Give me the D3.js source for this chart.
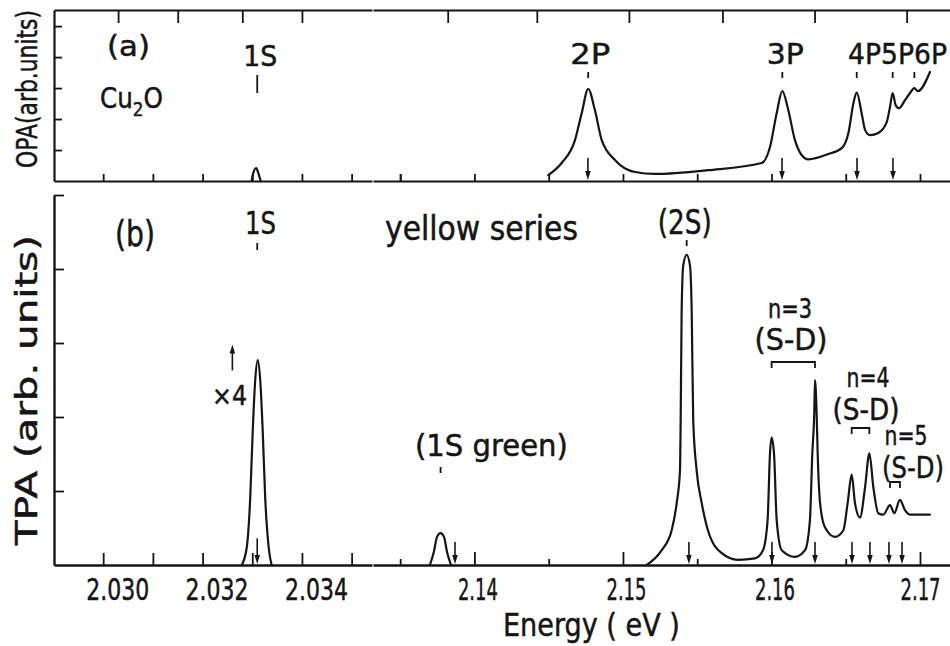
<!DOCTYPE html>
<html>
<head>
<meta charset="utf-8">
<script src="https://cdn.jsdelivr.net/npm/d3@7"></script>
<style>
  body { margin: 0; background: #fff; }
  svg text { font-family: "DejaVu Sans", "Liberation Sans", sans-serif; fill: #151515; stroke: #151515; stroke-width: 0.5px; }
</style>
</head>
<body>
<svg id="chart" width="950" height="646"></svg>
<script>
// ---- Cu2O yellow exciton series: one-photon (OPA) and two-photon (TPA) absorption ----

// OPA spectrum, P-exciton region (eV, arb. units)
const opaEnergy = [2.14497,2.14587,2.14677,2.14722,2.14766,2.14811,2.14857,2.14946,2.15081,2.15215,
  2.15572,2.15934,2.15990,2.16035,2.16073,2.16113,2.16158,2.16203,2.16248,2.16383,2.16473,2.16518,
  2.16552,2.16574,2.16607,2.16630,2.16663,2.16719,2.16776,2.16798,2.16816,2.16836,2.16859,2.16899,
  2.16933,2.16962,2.16985,2.17067];
const opaValue = [0.19,0.58,1.32,2.19,2.97,2.29,1.32,0.68,0.29,0.23,
  0.35,0.58,1.10,2.19,2.90,2.29,1.32,0.84,0.70,0.87,1.06,1.55,
  2.52,2.85,2.19,1.65,1.48,1.55,1.90,2.39,2.84,2.45,2.35,2.61,
  2.84,3.00,2.90,3.52];

// OPA, weak 1S line
const opa1SEnergy = [2.03299,2.03302,2.03308,2.03312,2.03317];
const opa1SValue  = [0,0.26,0.42,0.26,0];

// TPA, 1S yellow (shown x4)
const tpa1SEnergy = [2.03279,2.03289,2.03296,2.03301,2.03306,2.03311,2.03316,2.03321,2.03326,2.03333,2.03339];
const tpa1SValue  = [0,0.24,0.92,1.82,2.50,2.77,2.50,1.82,0.92,0.24,0];

// TPA, 1S green line
const tpaGreenEnergy = [2.13700,2.13727,2.13748,2.13772,2.13795,2.13815,2.13842];
const tpaGreenValue  = [0,0.18,0.38,0.43,0.38,0.18,0];

// TPA, n = 2 ... 5 region
const tpaEnergy = [2.15160,2.15261,2.15328,2.15362,2.15384,2.15389,2.15395,2.15406,2.15429,2.15451,
  2.15463,2.15473,2.15496,2.15530,2.15572,2.15665,2.15774,2.15889,2.15943,2.15974,
  2.15990,2.16001,2.16017,2.16035,2.16069,2.16158,2.16226,2.16259,2.16275,2.16288,
  2.16293,2.16304,2.16311,2.16327,2.16360,2.16428,2.16484,2.16513,2.16540,2.16562,
  2.16596,2.16630,2.16659,2.16686,2.16719,2.16753,2.16798,2.16827,2.16865,2.16899,
  2.16933,2.17067];
const tpaValue = [0,0.20,0.47,0.84,1.28,2.05,3.41,4.05,4.19,4.05,
  3.41,1.96,1.28,0.84,0.47,0.16,0.07,0.09,0.20,0.61,
  1.51,1.72,1.51,0.61,0.20,0.11,0.20,0.61,1.51,2.05,
  2.50,2.05,1.51,0.84,0.51,0.38,0.47,0.84,1.22,0.84,
  0.64,1.05,1.51,1.05,0.70,0.68,0.81,0.70,0.88,0.74,
  0.68,0.68];

// line-position arrows
const opaArrows = [2.14764, 2.16071, 2.16576, 2.16818];
const tpaArrowsLeft = [2.03310];
const tpaArrowsRight = [2.13869, 2.15444, 2.16003, 2.16293, 2.16542, 2.16663, 2.16791, 2.16879];

// axis ticks
const leftTicks = [2.030, 2.031, 2.032, 2.033, 2.034, 2.035];
const leftLabels = [2.030, 2.032, 2.034];
const rightMajor = [2.14, 2.15, 2.16, 2.17];
const rightMinor = [2.135, 2.145, 2.155, 2.165];
const topTicksLeft = [2.0303, 2.0315, 2.0328, 2.0340];
const topTicksRight = [2.1382, 2.1442, 2.1504, 2.1567, 2.1629, 2.1691];
const opaYTicks = [1, 2, 3, 4, 5];
const tpaYTicks = [1, 2, 3, 4, 5];

const svg = d3.select("#chart");
const INK = "#151515";

// broken energy axis: two linear pieces
const xL = d3.scaleLinear().domain([2.02901, 2.03541]).range([54, 372]);
const xR = d3.scaleLinear().domain([2.13317, 2.17202]).range([373, 950]);
const yA = d3.scaleLinear().domain([0, 5.52]).range([181, 10]);
const yB = d3.scaleLinear().domain([0, 5]).range([565, 195]);

function styleAxis(g, w) {
  g.selectAll("path.domain").attr("stroke", INK).attr("stroke-width", w);
  g.selectAll(".tick line").attr("stroke", INK).attr("stroke-width", 1.8);
}

// horizontally condense a text node to a given width (lettering is narrow)
function squeeze(node, width) {
  const w = node.getComputedTextLength();
  return w > 0 ? width / w : 1;
}

// ---------- panel (a) frame ----------
const aBottom = svg.append("g").attr("transform", `translate(0,${yA(0)})`);
[[xL, leftTicks], [xR, [2.135, ...rightMajor, ...rightMinor]]].forEach(([sc, tv]) => {
  const g = aBottom.append("g").call(d3.axisBottom(sc).tickValues(tv).tickSize(-7).tickSizeOuter(0).tickFormat(""));
  styleAxis(g, 2.2);
});
const aTop = svg.append("g").attr("transform", `translate(0,${yA.range()[1]})`);
[[xL, topTicksLeft], [xR, topTicksRight]].forEach(([sc, tv]) => {
  const g = aTop.append("g").call(d3.axisTop(sc).tickValues(tv).tickSize(-13).tickSizeOuter(0).tickFormat(""));
  styleAxis(g, 2.2);
});
const aLeft = svg.append("g").attr("transform", `translate(${xL.range()[0]},0)`)
  .call(d3.axisLeft(yA).tickValues(opaYTicks).tickSize(-8).tickSizeOuter(0).tickFormat(""));
styleAxis(aLeft, 2.2);

// ---------- panel (b) frame ----------
const bBottom = svg.append("g").attr("transform", `translate(0,${yB(0)})`);
const bl = bBottom.append("g").call(d3.axisBottom(xL).tickValues(leftTicks).tickSize(-12).tickSizeOuter(0).tickFormat(""));
styleAxis(bl, 2.4);
const brMaj = bBottom.append("g").call(d3.axisBottom(xR).tickValues(rightMajor).tickSize(-13).tickSizeOuter(0).tickFormat(""));
styleAxis(brMaj, 2.4);
const brMin = bBottom.append("g").call(d3.axisBottom(xR).tickValues(rightMinor).tickSize(-6).tickSizeOuter(0).tickFormat(""));
brMin.select("path.domain").remove();
styleAxis(brMin, 2.4);

// tick labels
const fmtL = d3.format(".3f"), fmtR = d3.format(".2f");
const labL = bBottom.append("g").call(d3.axisBottom(xL).tickValues(leftLabels).tickSize(0).tickFormat(fmtL));
labL.select("path.domain").remove();
const labR = bBottom.append("g").call(d3.axisBottom(xR).tickValues(rightMajor).tickSize(0).tickFormat(fmtR));
labR.select("path.domain").remove();
[[labL, 63, () => 14], [labR, 40, d => (d > 2.165 ? 0 : 3)]].forEach(([g, width, off]) => {
  g.selectAll(".tick text")
    .attr("font-size", 31).attr("fill", INK).attr("dy", 0).attr("y", 0)
    .attr("font-family", "DejaVu Sans, sans-serif")
    .each(function (d) {
      const sx = squeeze(this, width);
      d3.select(this).attr("transform", `translate(${off(d)},35) scale(${sx},1)`);
    });
});

const bLeft = svg.append("g").attr("transform", `translate(${xL.range()[0]},0)`)
  .call(d3.axisLeft(yB).tickValues(tpaYTicks).tickSize(-10).tickSizeOuter(0).tickFormat(""));
styleAxis(bLeft, 2.4);

// ---------- axis break marks ----------
function breakMark(cx, cy, h) {
  [-5, 3].forEach(off => {
    svg.append("path")
      .attr("d", `M${cx + off - 4},${cy + h}Q${cx + off + 2},${cy}${cx + off + 3},${cy - h}`)
      .attr("fill", "none").attr("stroke", INK).attr("stroke-width", 2);
  });
}
breakMark(370, yA.range()[1] + 1, 8);
breakMark(373, yA(0), 13);
breakMark(374, yB(0), 12);

// ---------- spectra ----------
function curve(sc, ys, xs, vs) {
  const pts = xs.map((e, i) => [e, vs[i]]);
  svg.append("path")
    .attr("d", d3.line().x(d => sc(d[0])).y(d => ys(d[1])).curve(d3.curveMonotoneX)(pts))
    .attr("fill", "none").attr("stroke", INK).attr("stroke-width", 2.2)
    .attr("stroke-linejoin", "round").attr("stroke-linecap", "round");
}
curve(xL, yA, opa1SEnergy, opa1SValue);
curve(xR, yA, opaEnergy, opaValue);
curve(xL, yB, tpa1SEnergy, tpa1SValue);
curve(xR, yB, tpaGreenEnergy, tpaGreenValue);
curve(xR, yB, tpaEnergy, tpaValue);

// ---------- arrows ----------
function arrow(x, yFrom, yTo) {
  const dir = yTo > yFrom ? 1 : -1;
  svg.append("line").attr("x1", x).attr("x2", x).attr("y1", yFrom).attr("y2", yTo - dir * 6)
    .attr("stroke", INK).attr("stroke-width", 1.6);
  svg.append("path")
    .attr("d", `M${x - 2.8},${yTo - dir * 9}L${x + 2.8},${yTo - dir * 9}L${x},${yTo}Z`)
    .attr("fill", INK);
}
opaArrows.forEach(e => arrow(xR(e), yA(0.74), yA(0) - 1));
tpaArrowsLeft.forEach(e => arrow(xL(e), yB(0.36), yB(0) - 1));
tpaArrowsRight.forEach(e => arrow(xR(e), yB(0.31), yB(0) - 1));
arrow(xL(2.0326), yB(2.63), yB(2.98));   // scale-factor marker

// ---------- annotation marks ----------
function vmark(x, y1, y2) {
  svg.append("line").attr("x1", x).attr("x2", x).attr("y1", y1).attr("y2", y2)
    .attr("stroke", INK).attr("stroke-width", 1.8);
}
function bracket(x1, x2, y) {
  svg.append("path").attr("d", `M${x1},${y + 6}V${y}H${x2}V${y + 6}`)
    .attr("fill", "none").attr("stroke", INK).attr("stroke-width", 1.8);
}
vmark(xL(2.0331), 75, 93);
[2.14766, 2.16073, 2.16574, 2.16816, 2.16962].forEach(e => vmark(xR(e), 72, 78));
vmark(xL(2.0331), 243, 250);
vmark(xR(2.15429), 240, 246);
vmark(xR(2.13772), 467, 473);
bracket(xR(2.16001), xR(2.16293), 362);
bracket(xR(2.16540), xR(2.16659), 428);
bracket(xR(2.16798), xR(2.16865), 482);

// ---------- text ----------
function label(x, y, str, size, width, anchor = "middle", rotate = 0) {
  const t = svg.append("text")
    .attr("font-size", size).attr("text-anchor", anchor).text(str);
  const sx = width ? squeeze(t.node(), width) : 1;
  t.attr("transform", `translate(${x},${y}) rotate(${rotate}) scale(${sx},1)`);
  return t;
}

// panel (a)
label(107, 56, "(a)", 28, 43, "start");
const cu = svg.append("text").attr("font-size", 28);
cu.append("tspan").text("Cu");
cu.append("tspan").text("2").attr("font-size", 19).attr("dy", 8);
cu.append("tspan").text("O").attr("dy", -8);
cu.attr("transform", `translate(100,108) scale(${squeeze(cu.node(), 63)},1)`);
label(xL(2.0331) + 3, 66, "1S", 29, 34);
label(xR(2.14766) + 2, 64, "2P", 29, 40);
label(xR(2.16073) + 3, 64, "3P", 29, 37);
label(848, 64, "4P5P6P", 29, 99, "start");

// panel (b)
label(115, 246, "(b)", 36, 40, "start");
label(245, 234, "1S", 32, 31, "start");
label(385, 240, "yellow series", 33, 193, "start");
label(xR(2.15429) - 2, 234, "(2S)", 34, 54);
label(212, 405, "×4", 27, 35, "start");
label(415, 456, "(1S green)", 31, 153, "start");
label(790, 318, "n=3", 27, 44);
label(791, 350, "(S-D)", 30, 73);
label(868, 387, "n=4", 27, 43);
label(866, 420, "(S-D)", 30, 67);
label(906, 445, "n=5", 27, 43);
label(913, 478, "(S-D)", 30, 62);

// axis titles
label(503, 636, "Energy ( eV )", 32, 177, "start");
label(37, 89, "OPA(arb.units)", 29, 158, "middle", -90);
label(37, 390, "TPA (arb. units)", 30, 310, "middle", -90);
</script>
</body>
</html>
